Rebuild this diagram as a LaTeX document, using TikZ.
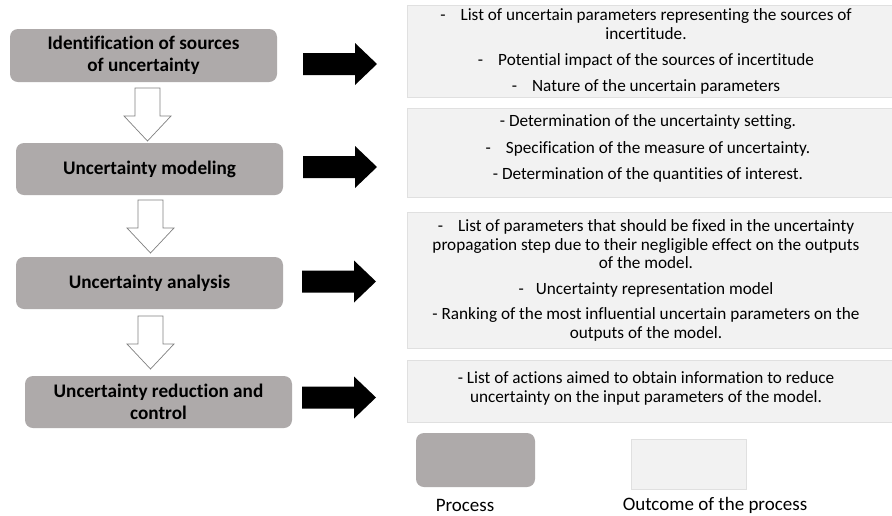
\documentclass[tikz,border=0pt]{standalone}
\usepackage{fontspec}
\setmainfont{Carlito}[Ligatures=NoCommon]
\definecolor{procgray}{HTML}{AEAAAA}
\definecolor{outgray}{HTML}{F2F2F2}
\definecolor{outline}{HTML}{E0E0E0}
\definecolor{arrowgray}{HTML}{808080}
\begin{document}
\begin{tikzpicture}[x=1pt,y=-1pt,
  process/.style={draw=none, fill=procgray, rounded corners=8pt, inner sep=0pt,
    font=\bfseries\fontsize{19.2}{22}\selectfont, align=center},
  outbox/.style={fill=outgray, draw=outline, line width=0.6pt, inner sep=0pt},
  outtext/.style={font=\fontsize{17.2}{19}\selectfont, align=center, inner sep=0pt},
  legtext/.style={font=\fontsize{19}{20}\selectfont, inner sep=0pt},
  flowarrow/.style={fill=white, draw=arrowgray, line width=0.7pt},
  blackarrow/.pic={\fill[black] (0,-11) -- (52,-11) -- (52,-21) -- (74,0) -- (52,21) -- (52,11) -- (0,11) -- cycle;},
  downarrow/.pic={\filldraw[flowarrow] (-12.5,0) -- (12.5,0) -- (12.5,28) -- (23.5,28) -- (0,53) -- (-23.5,28) -- (-12.5,28) -- cycle;}
]
\path[fill=white, use as bounding box] (0,0) rectangle (892,515);

% process boxes
\node[process, minimum width=267pt, minimum height=53pt] (p1) at (143.5,55.5) {Identification of sources\\of uncertainty};
\node[process, minimum width=267pt, minimum height=52pt] (p2) at (149.5,169) {Uncertainty modeling};
\node[process, minimum width=267pt, minimum height=52pt] (p3) at (149.5,283) {Uncertainty analysis};
\node[process, minimum width=267pt, minimum height=52pt] (p4) at (158.5,402) {Uncertainty reduction and\\control};

% flow arrows
\pic at (147.5,88) {downarrow};
\pic at (150.5,200) {downarrow};
\pic at (150.5,316) {downarrow};

% black arrows
\pic at (303,64) {blackarrow};
\pic at (303,167) {blackarrow};
\pic at (302,281.5) {blackarrow};
\pic at (302,397.5) {blackarrow};

% outcome boxes
\node[outbox, minimum width=487pt, minimum height=92pt] (o1) at (650.5,51) {};
\node[outbox, minimum width=487pt, minimum height=89pt] (o2) at (650.5,152.5) {};
\node[outbox, minimum width=487pt, minimum height=136pt] (o3) at (650.5,280) {};
\node[outbox, minimum width=487pt, minimum height=62pt] (o4) at (650.5,391) {};

\node[outtext] (t1) at (646,51.5) {-\hspace{15pt}List of uncertain parameters representing the sources of\\incertitude.\\[7.5pt]
  -\hspace{15pt}Potential impact of the sources of incertitude\\[7pt]
  -\hspace{15pt}Nature of the uncertain parameters};
\node[outtext] (t2) at (648,148.5) {- Determination of the uncertainty setting.\\[7.5pt]
  -\hspace{15pt}Specification of the measure of uncertainty.\\[7.5pt]
  - Determination of the quantities of interest.};
\node[outtext] (t3) at (646,280.5) {-\hspace{15pt}List of parameters that should be fixed in the uncertainty\\
  propagation step due to their negligible effect on the outputs\\[-1pt]of the model.\\[6.5pt]
  -\hspace{12pt}Uncertainty representation model\\[6.5pt]
  - Ranking of the most influential uncertain parameters on the\\outputs of the model.};
\node[outtext] (t4) at (646,388) {- List of actions aimed to obtain information to reduce\\uncertainty on the input parameters of the model.};

% legend
\node[process, minimum width=119pt, minimum height=54pt] (lp) at (475.5,460) {};
\node[outbox, minimum width=115pt, minimum height=50pt] (lo) at (688.5,464) {};
\node[legtext] (lpt) at (465,505) {Process};
\node[legtext] (lot) at (715,505) {Outcome of the process};
\end{tikzpicture}
\end{document}
